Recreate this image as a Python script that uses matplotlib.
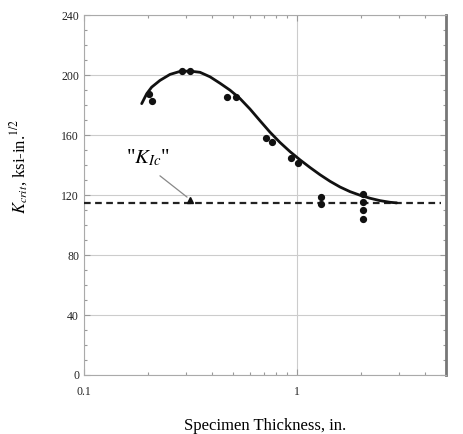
import numpy as np
import matplotlib
matplotlib.use('Agg')
import matplotlib.pyplot as plt
from matplotlib.ticker import MultipleLocator, LogLocator, NullFormatter, FixedLocator, FixedFormatter

plt.rcParams['font.family'] = ['Liberation Serif', 'DejaVu Serif']
plt.rcParams['mathtext.fontset'] = 'stix'

# measured specimens
thick = [0.203, 0.209, 0.287, 0.316, 0.468, 0.517, 0.713, 0.763, 0.937, 1.01,
         1.29, 1.29, 2.03, 2.03, 2.03, 2.03]
kcrit = [187.6, 182.7, 202.5, 202.5, 185.4, 185.4, 158.2, 155.5, 144.6, 141.7,
         118.5, 114.1, 120.8, 115.6, 110.3, 104.3]

# trend curve
curve_t = [0.1866, 0.197, 0.2078, 0.2274, 0.2534, 0.2823, 0.3146, 0.3505, 0.3905,
           0.4351, 0.4847, 0.540, 0.6016, 0.6704, 0.7465, 0.8321, 0.927, 1.033,
           1.151, 1.282, 1.429, 1.592, 1.774, 1.976, 2.201, 2.453, 2.733, 2.94]
curve_k = [181.0, 187.6, 192.0, 196.5, 200.5, 202.5, 202.7, 201.9, 198.9,
           194.6, 190.0, 184.4, 177.4, 169.6, 162.0, 155.1, 149.0, 143.5,
           138.4, 133.6, 129.2, 125.4, 122.3, 119.9, 117.9, 116.3, 115.2, 114.8]

k_ic = 115.0
dash_x = [0.1, 4.75]

fig = plt.figure(figsize=(4.64, 4.34), dpi=100)
ax = fig.add_axes([0.181, 0.136, 0.780, 0.829])

ax.set_xscale('log')
ax.set_xlim(0.1, 5.0)
ax.set_ylim(0, 240)

ax.plot(dash_x, [k_ic, k_ic], color='#222222', lw=1.6, ls=(0, (3.0, 2.0)), zorder=3)
ax.plot(curve_t, curve_k, color='#111111', lw=2.0, zorder=4,
        solid_capstyle='round', solid_joinstyle='round')
ax.plot(thick, kcrit, 'o', color='#111111', ms=4.2, zorder=5)

# K_Ic label with arrow
ax.plot([0.316], [116.5], marker='^', color='#111111', ms=5, zorder=6)
ax.annotate('', xy=(0.312, 117.5), xytext=(0.222, 134),
            arrowprops=dict(arrowstyle='-', color='#888888', lw=0.9))
ax.text(0.200, 138, '"$K_{Ic}$"', fontsize=15, ha='center', va='bottom')

# ticks
ax.yaxis.set_major_locator(MultipleLocator(40))
ax.yaxis.set_minor_locator(MultipleLocator(10))
ax.xaxis.set_major_locator(FixedLocator([0.1, 1]))
ax.xaxis.set_major_formatter(FixedFormatter(['0.1', '1']))
ax.xaxis.set_minor_locator(LogLocator(base=10, subs=np.arange(2, 10)))
ax.xaxis.set_minor_formatter(NullFormatter())

ax.tick_params(which='both', direction='in', top=True, right=True, colors='#999999',
               labelcolor='#222222', labelsize=8.5)
ax.tick_params(which='major', length=4, width=0.8)
ax.tick_params(which='minor', length=2.5, width=0.8)
ax.tick_params(axis='x', which='major', pad=8)

ax.grid(True, which='major', color='#cccccc', lw=0.8)
ax.set_axisbelow(True)

for s in ['left', 'bottom', 'top']:
    ax.spines[s].set_color('#aaaaaa')
    ax.spines[s].set_linewidth(0.8)
ax.spines['right'].set_color('#777777')
ax.spines['right'].set_linewidth(2.0)

ax.set_xlabel('Specimen Thickness, in.', fontsize=12, labelpad=14)
ax.set_ylabel(r'$K_{crit}$, ksi-in.$^{1/2}$', fontsize=12)
ax.yaxis.set_label_coords(-0.15, 0.58)

fig.savefig('out.png', dpi=100)
